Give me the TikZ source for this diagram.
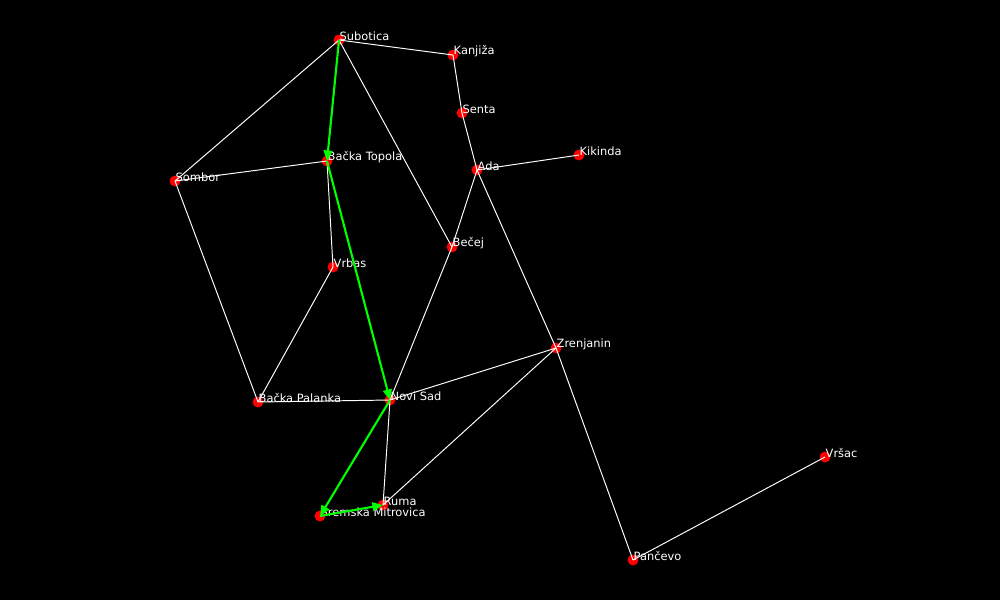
\documentclass[tikz,border=0pt]{standalone}
\usepackage{fontspec}
\setmainfont{DejaVu Sans}
\usetikzlibrary{arrows.meta}
\begin{document}
\begin{tikzpicture}[x=0.02cm,y=-0.02cm, % one unit = one pixel of the screen
	city/.style={circle,fill=red,inner sep=0pt,minimum size=6.2pt},
	lbl/.style={text=white,inner sep=0pt,xshift=-3.1pt,yshift=2.3pt,font=\fontsize{6.5}{7}\selectfont},
	label distance=0pt,
	road/.style={white,line width=0.55pt},
	route/.style={green,line width=1.2pt,-{Triangle[length=6pt,width=5pt]}}]
	\fill[black] (0,0) rectangle (1000,600);
	\node[city,label={[lbl]right:Subotica}] (sub) at (339,40) {};
	\node[city,label={[lbl]right:Kanjiža}] (kan) at (453,55) {};
	\node[city,label={[lbl]right:Senta}] (sen) at (462,113) {};
	\node[city,label={[lbl]right:Ada}] (ada) at (477,170) {};
	\node[city,label={[lbl]right:Kikinda}] (kik) at (579,155) {};
	\node[city,label={[lbl]right:Sombor}] (som) at (175,181) {};
	\node[city,label={[lbl]right:Bačka Topola}] (bto) at (327,161) {};
	\node[city,label={[lbl]right:Vrbas}] (vrb) at (333,267) {};
	\node[city,label={[lbl]right:Bečej}] (bec) at (452,247) {};
	\node[city,label={[lbl]right:Zrenjanin}] (zre) at (556,348) {};
	\node[city,label={[lbl]right:Bačka Palanka}] (bpa) at (258,402) {};
	\node[city,label={[lbl]right:Novi Sad}] (ns) at (390,400) {};
	\node[city,label={[lbl]right:Ruma}] (rum) at (383,505) {};
	\node[city,label={[lbl]right:Sremska Mitrovica}] (smi) at (320,516) {};
	\node[city,label={[lbl]right:Vršac}] (vrs) at (825,457) {};
	\node[city,label={[lbl]right:Pančevo}] (pan) at (633,560) {};
	% roads
	\draw[road] (sub.center)--(kan.center);
	\draw[road] (sub.center)--(som.center);
	\draw[road] (sub.center)--(bec.center);
	\draw[road] (kan.center)--(sen.center);
	\draw[road] (sen.center)--(ada.center);
	\draw[road] (ada.center)--(kik.center);
	\draw[road] (ada.center)--(bec.center);
	\draw[road] (ada.center)--(zre.center);
	\draw[road] (som.center)--(bto.center);
	\draw[road] (som.center)--(bpa.center);
	\draw[road] (bto.center)--(vrb.center);
	\draw[road] (vrb.center)--(bpa.center);
	\draw[road] (bpa.center)--(ns.center);
	\draw[road] (bec.center)--(ns.center);
	\draw[road] (ns.center)--(zre.center);
	\draw[road] (ns.center)--(rum.center);
	\draw[road] (rum.center)--(zre.center);
	\draw[road] (zre.center)--(pan.center);
	\draw[road] (pan.center)--(vrs.center);
	% shortest route
	\draw[route] (sub.center)--(bto.center);
	\draw[route] (bto.center)--(ns.center);
	\draw[route] (ns.center)--(smi.center);
	\draw[route] (smi.center)--(rum.center);
\end{tikzpicture}
\end{document}
